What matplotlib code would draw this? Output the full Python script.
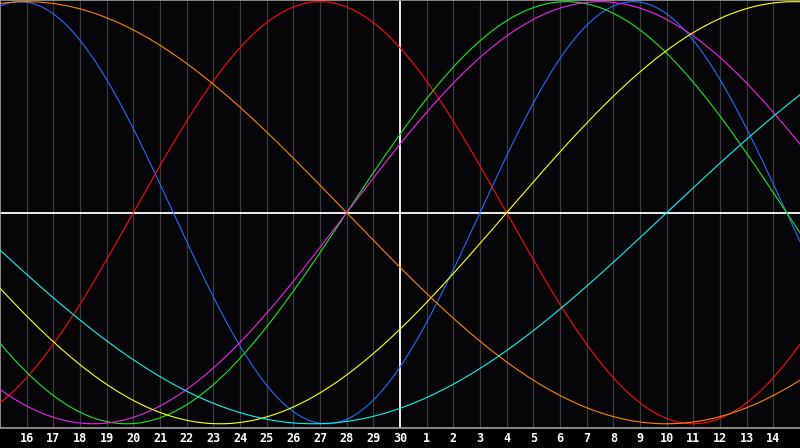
import numpy as np
import matplotlib
matplotlib.use("Agg")
import matplotlib.pyplot as plt

# Day labels along the bottom (positions 1..29 of a 30-day window)
day_labels = ["16", "17", "18", "19", "20", "21", "22", "23", "24", "25", "26", "27", "28", "29", "30",
              "1", "2", "3", "4", "5", "6", "7", "8", "9", "10", "11", "12", "13", "14"]

# Cycle lengths (days) of each curve
cycle_names = ["physical", "emotional", "intellectual", "intuitive", "aesthetic", "awareness", "spiritual"]
cycle_periods = [23, 28, 33, 38, 43, 48, 53]
# Day index (0..30 window) at which each curve crosses zero going upward
cycle_rising_zero = [18, 5, 13, 13, 19, -11, 25]
cycle_colors = ["#1e6cff", "#ff0a0a", "#18e818", "#f020f0", "#ffff10", "#ff8000", "#10f0f0"]

today_index = 15
n_days = 30

fig = plt.figure(figsize=(8, 4.48), dpi=100, facecolor="#000000")
ax = fig.add_axes([0, 20 / 448, 1, 428 / 448])
ax.set_facecolor("#060609")

# vertical day grid
for i in range(1, n_days):
    if i == today_index:
        continue
    ax.axvline(i, color="#3a3a3e", lw=0.9, zorder=1)

x = np.linspace(0, n_days, 1200)
for p, z, c in zip(cycle_periods, cycle_rising_zero, cycle_colors):
    ax.plot(x, np.sin(2 * np.pi * (x - z) / p), color=c, lw=0.8, zorder=3)

ax.axhline(0, color="white", lw=1.3, zorder=2)
ax.axvline(today_index, color="white", lw=1.3, zorder=2)

ax.set_xlim(0, n_days)
ax.set_ylim(-1.02, 1.008)
ax.set_xticks([])
ax.set_yticks([])
for s in ["left", "top", "bottom"]:
    ax.spines[s].set_color("#a0a0a0")
    ax.spines[s].set_linewidth(1.2)
ax.spines["right"].set_visible(False)

for i, lab in enumerate(day_labels, start=1):
    xf = i / n_days
    fig.text(xf, 10 / 448, lab, color="white", fontsize=8.5, fontweight="bold",
             family="DejaVu Sans Mono", ha="center", va="center")

fig.savefig("out.png", dpi=100, facecolor="#000000")
